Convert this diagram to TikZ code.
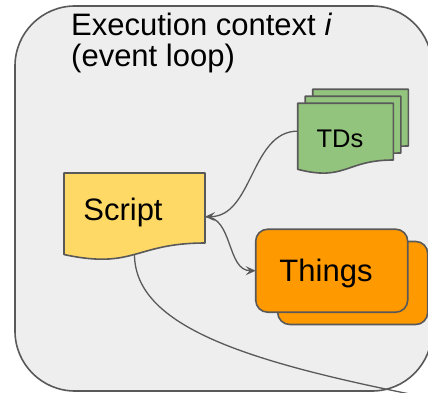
\documentclass[tikz,border=0pt]{standalone}
\usepackage{fontspec}
\setmainfont{Liberation Sans}
\usetikzlibrary{arrows.meta,calc}
\definecolor{edgegray}{HTML}{595959}
\definecolor{ctxfill}{HTML}{EEEEEE}
\definecolor{scriptfill}{HTML}{FFD966}
\definecolor{tdfill}{HTML}{93C47D}
\definecolor{thingfill}{HTML}{FF9900}

% document shape with a wavy bottom: style, x, y (top left), width, height
\newcommand\docshape[5]{%
  \path[#1] (#2,#3) -- ({#2+#4},#3) -- ({#2+#4},{#3+0.802*#5})
    .. controls ({#2+0.5*#4},{#3+0.802*#5}) and ({#2+0.5*#4},{#3+1.1075*#5})
    .. (#2,{#3+0.934*#5}) -- cycle;}

\tikzset{
  ctxbox/.style={draw=edgegray, line width=1.6pt, fill=ctxfill, rounded corners=60pt,
    inner sep=0pt, outer sep=0pt},
  area/.style={inner sep=0pt, outer sep=0pt},
  scriptdoc/.style={draw=edgegray, line width=1.6pt, fill=scriptfill, line join=round},
  tddoc/.style={draw=edgegray, line width=1.6pt, fill=tdfill, line join=round},
  thingbox/.style={draw=edgegray, line width=1.6pt, fill=thingfill, rounded corners=12pt,
    inner sep=0pt, outer sep=0pt, minimum height=83pt},
  conn/.style={draw=edgegray, line width=1.3pt},
  tip/.style={-{Stealth[length=10pt,width=9pt,inset=4pt]}},
  bigtext/.style={font=\fontsize{31}{31}\selectfont, inner sep=0pt},
  smalltext/.style={font=\fontsize{25.5}{26}\selectfont, inner sep=0pt},
}

\begin{document}
\begin{tikzpicture}[x=1pt,y=-1pt]
\useasboundingbox (0,0) rectangle (428,393);
\clip (0,0) rectangle (428,393);

% execution context frame
\node[ctxbox, minimum width=417pt, minimum height=385pt] (ctx) at (223.5,198.5) {};
% the base anchor of a two-line node sits on its last line
\node[bigtext, anchor=base west, align=left] (title) at (71,67)
  {Execution context \textit{i}\\(event loop)};

% stack of thing descriptions
\docshape{tddoc}{312.7}{89.3}{95.6}{70.7}
\docshape{tddoc}{305.2}{96.3}{95.6}{70.7}
\docshape{tddoc}{297.7}{103.3}{95.6}{70.7}
\node[area, minimum width=95.6pt, minimum height=70.7pt] (tds) at (345.5,138.65) {};
\node[smalltext, anchor=base] (tdslabel) at (340,147.5) {TDs};

% the script
\docshape{scriptdoc}{64}{173}{141}{87.3}
\node[area, minimum width=141pt, minimum height=87.3pt] (script) at (134.5,216.65) {};
\node[bigtext, anchor=base] (scriptlabel) at (123,220) {Script};

% things
\node[thingbox, minimum width=150pt] (thingsback) at (352.7,283) {};
\node[thingbox, minimum width=152pt] (things) at (331.7,270.7) {};
\node[bigtext, anchor=base] (thingslabel) at (326,281.7) {Things};

% connectors
\coordinate (exit) at (440,400);
\draw[conn, tip] ([yshift=7.5pt]tds.west) .. controls +(-47,0) and +(48,0) .. (script.east);
\draw[conn, tip] (script.east) .. controls +(28,0) and +(-29,0) .. (things.west);
\draw[conn] ([yshift=6pt]script.south) .. controls +(0,76) and +(-180,-35) .. (exit);
\end{tikzpicture}
\end{document}
